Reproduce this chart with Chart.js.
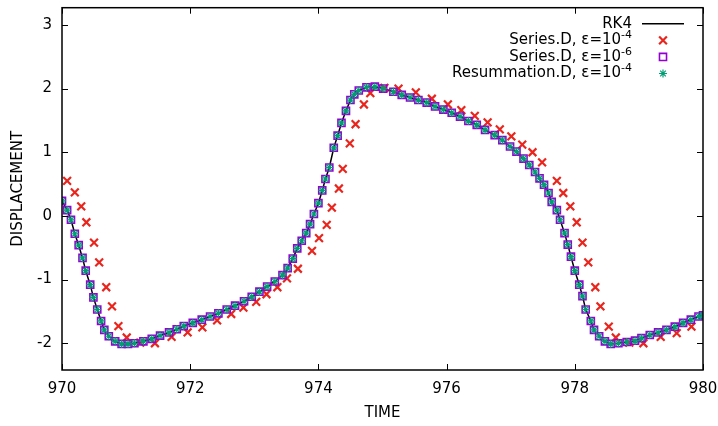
<!DOCTYPE html>
<html>
<head>
<meta charset="UTF-8">
<title>Displacement vs time</title>
<script src="https://cdn.jsdelivr.net/npm/chart.js"></script>
<style>
  body { margin: 0; background: white; }
  canvas { display: block; }
</style>
</head>
<body>
<canvas id="chart" width="718" height="426"></canvas>
<script>
// axis ticks
const xTicks = [970, 972, 974, 976, 978, 980];
const yTicks = [-2, -1, 0, 1, 2, 3];

// RK4 reference solution
const rk4T = [970.0, 970.08, 970.14, 970.2, 970.26, 970.32, 970.37, 970.44, 970.49, 970.55,
  970.61, 970.66, 970.73, 970.83, 970.93, 971.03, 971.13, 971.27, 971.4, 971.53,
  971.67, 971.79, 971.9, 972.04, 972.18, 972.31, 972.44, 972.57, 972.7, 972.84,
  972.96, 973.08, 973.2, 973.32, 973.44, 973.52, 973.6, 973.67, 973.74, 973.81,
  973.87, 973.93, 974.0, 974.06, 974.11, 974.17, 974.24, 974.3, 974.36, 974.43,
  974.5, 974.56, 974.63, 974.75, 974.88, 975.01, 975.17, 975.3, 975.43, 975.56,
  975.69, 975.82, 975.95, 976.08, 976.21, 976.34, 976.47, 976.6, 976.75, 976.87,
  976.99, 977.09, 977.2, 977.29, 977.38, 977.45, 977.52, 977.59, 977.64, 977.72,
  977.77, 977.84, 977.89, 977.94, 978.0, 978.07, 978.12, 978.17, 978.25, 978.3,
  978.38, 978.47, 978.56, 978.68, 978.81, 978.94, 979.04, 979.17, 979.3, 979.43,
  979.56, 979.69, 979.81, 979.93, 980.0];
const rk4Y = [0.235, 0.09, -0.06, -0.28, -0.46, -0.66, -0.86, -1.08, -1.28, -1.47,
  -1.65, -1.79, -1.89, -1.97, -2.01, -2.01, -2.0, -1.97, -1.93, -1.88,
  -1.83, -1.78, -1.73, -1.68, -1.63, -1.58, -1.53, -1.47, -1.41, -1.34,
  -1.27, -1.19, -1.11, -1.03, -0.93, -0.82, -0.67, -0.51, -0.39, -0.27,
  -0.13, 0.03, 0.2, 0.4, 0.58, 0.76, 1.07, 1.26, 1.46, 1.65,
  1.82, 1.91, 1.97, 2.02, 2.03, 2.0, 1.95, 1.9, 1.86, 1.82,
  1.78, 1.72, 1.67, 1.62, 1.56, 1.49, 1.43, 1.35, 1.27, 1.19,
  1.09, 1.01, 0.9, 0.8, 0.69, 0.59, 0.49, 0.36, 0.22, 0.09,
  -0.06, -0.27, -0.45, -0.64, -0.86, -1.08, -1.26, -1.47, -1.65, -1.79,
  -1.89, -1.97, -2.01, -2.0, -1.98, -1.96, -1.92, -1.87, -1.83, -1.79,
  -1.74, -1.68, -1.63, -1.58, -1.56];

// Series.D, eps=1e-4 (lags behind)
const seriesD4T = [970.08, 970.2, 970.3, 970.38, 970.5, 970.58, 970.69, 970.78, 970.88, 971.01,
  971.22, 971.45, 971.71, 971.96, 972.19, 972.42, 972.64, 972.83, 973.03, 973.19,
  973.36, 973.51, 973.68, 973.9, 974.01, 974.13, 974.21, 974.32, 974.38, 974.49,
  974.58, 974.71, 974.81, 975.03, 975.25, 975.52, 975.77, 976.02, 976.23, 976.44,
  976.64, 976.83, 977.01, 977.18, 977.34, 977.49, 977.72, 977.82, 977.93, 978.03,
  978.12, 978.21, 978.32, 978.4, 978.53, 978.64, 978.85, 979.07, 979.34, 979.59,
  979.82];
const seriesD4Y = [0.55, 0.37, 0.15, -0.1, -0.42, -0.73, -1.12, -1.42, -1.73, -1.91,
  -1.99, -2.0, -1.9, -1.83, -1.75, -1.64, -1.54, -1.44, -1.35, -1.23,
  -1.12, -0.98, -0.83, -0.55, -0.35, -0.14, 0.13, 0.43, 0.74, 1.14,
  1.44, 1.75, 1.93, 2.01, 2.0, 1.94, 1.84, 1.75, 1.66, 1.57,
  1.47, 1.36, 1.25, 1.12, 1.0, 0.84, 0.55, 0.36, 0.15, -0.1,
  -0.42, -0.73, -1.12, -1.42, -1.74, -1.91, -1.99, -2.0, -1.9, -1.84,
  -1.74];

// Series.D, eps=1e-6 and Resummation.D, eps=1e-4 sit on the RK4 curve
const seriesD6T = rk4T;
const seriesD6Y = rk4Y;
const resumT = rk4T;
const resumY = rk4Y;

const toPoints = (ts, ys) => ts.map((t, i) => ({ x: t, y: ys[i] }));

const RED = '#e8261e';
const PURPLE = '#9400d3';
const GREEN = '#009e73';
const FONT = '"DejaVu Sans"';

const legendRows = [
  { text: 'RK4', sup: '', kind: 'line', color: '#000' },
  { text: 'Series.D, \u03b5=10', sup: '-4', kind: 'crossRot', color: RED, radius: 5.5, width: 2.2 },
  { text: 'Series.D, \u03b5=10', sup: '-6', kind: 'rect', color: PURPLE, radius: 5, width: 1.6 },
  { text: 'Resummation.D, \u03b5=10', sup: '-4', kind: 'star', color: GREEN, radius: 4, width: 1.2 }
];

// gnuplot-like frame: border plus inward ticks on all four sides, and the key
const framePlugin = {
    id: 'frame',
    afterDraw(chart) {
        const ctx = chart.ctx;
        const a = chart.chartArea;
        const xs = chart.scales.x;
        const ys = chart.scales.y;
        ctx.save();
        ctx.strokeStyle = '#000';
        ctx.lineWidth = 1.5;
        ctx.strokeRect(a.left, a.top, a.right - a.left, a.bottom - a.top);
        ctx.lineWidth = 1;
        ctx.beginPath();
        xTicks.forEach(v => {
            const px = Math.round(xs.getPixelForValue(v)) + 0.5;
            ctx.moveTo(px, a.bottom); ctx.lineTo(px, a.bottom - 6);
            ctx.moveTo(px, a.top); ctx.lineTo(px, a.top + 6);
        });
        yTicks.forEach(v => {
            const py = Math.round(ys.getPixelForValue(v)) + 0.5;
            ctx.moveTo(a.left, py); ctx.lineTo(a.left + 6, py);
            ctx.moveTo(a.right, py); ctx.lineTo(a.right - 6, py);
        });
        ctx.stroke();

        // key
        const textRight = a.right - 71;
        const sampleX = a.right - 40;
        ctx.textBaseline = 'middle';
        legendRows.forEach((row, i) => {
            const y = a.top + 16 + i * 16.6;
            ctx.font = '11px ' + FONT;
            const supW = row.sup ? ctx.measureText(row.sup).width : 0;
            ctx.font = '15px ' + FONT;
            const mainW = ctx.measureText(row.text).width;
            ctx.fillStyle = '#000';
            ctx.textAlign = 'left';
            ctx.fillText(row.text, textRight - supW - mainW, y);
            if (row.sup) {
                ctx.font = '11px ' + FONT;
                ctx.fillText(row.sup, textRight - supW, y - 5);
            }
            if (row.kind === 'line') {
                ctx.strokeStyle = '#000';
                ctx.lineWidth = 1.5;
                ctx.beginPath();
                ctx.moveTo(sampleX - 21, y);
                ctx.lineTo(sampleX + 21, y);
                ctx.stroke();
            } else {
                ctx.strokeStyle = row.color;
                ctx.fillStyle = 'rgba(0,0,0,0)';
                ctx.lineWidth = row.width;
                Chart.helpers.drawPoint(ctx, {
                    pointStyle: row.kind, radius: row.radius, rotation: 0, borderWidth: row.width
                }, sampleX, y);
            }
        });
        ctx.restore();
    }
};

// drop the label-overflow padding so the plot box sits where layout.padding says
const noOverflow = s => {
    s.paddingTop = 0; s.paddingBottom = 0; s.paddingLeft = 0; s.paddingRight = 0;
};

Chart.defaults.font.family = FONT;
Chart.defaults.font.size = 15;
Chart.defaults.color = '#000';

new Chart(document.getElementById('chart'), {
    type: 'scatter',
    data: {
        datasets: [
            {
                label: 'RK4',
                data: toPoints(rk4T, rk4Y),
                showLine: true,
                borderColor: '#000',
                borderWidth: 1.5,
                pointRadius: 0,
                order: 4
            },
            {
                label: 'Series.D, \u03b5=10^-4',
                data: toPoints(seriesD4T, seriesD4Y),
                pointStyle: 'crossRot',
                pointRadius: 5.5,
                borderColor: RED,
                borderWidth: 2.2,
                order: 3
            },
            {
                label: 'Series.D, \u03b5=10^-6',
                data: toPoints(seriesD6T, seriesD6Y),
                pointStyle: 'rect',
                pointRadius: 5,
                borderColor: PURPLE,
                backgroundColor: 'rgba(0,0,0,0)',
                borderWidth: 1.6,
                order: 2
            },
            {
                label: 'Resummation.D, \u03b5=10^-4',
                data: toPoints(resumT, resumY),
                pointStyle: 'star',
                pointRadius: 4,
                borderColor: GREEN,
                borderWidth: 1.2,
                order: 1
            }
        ]
    },
    options: {
        responsive: false,
        animation: false,
        events: [],
        layout: { padding: { top: 7, right: 15, left: 0, bottom: 0 } },
        plugins: {
            legend: { display: false },
            tooltip: { enabled: false }
        },
        scales: {
            x: {
                type: 'linear',
                min: 970,
                max: 980,
                afterBuildTicks: s => { s.ticks = xTicks.map(v => ({ value: v })); },
                afterFit: s => { s.height = 56; noOverflow(s); },
                grid: { display: false, drawTicks: false },
                border: { display: false },
                ticks: { padding: 10 },
                title: { display: true, text: 'TIME', padding: { top: 0, bottom: 4 } }
            },
            y: {
                type: 'linear',
                min: -2.42,
                max: 3.27,
                afterBuildTicks: s => { s.ticks = yTicks.map(v => ({ value: v })); },
                afterFit: s => { s.width = 62; noOverflow(s); },
                grid: { display: false, drawTicks: false },
                border: { display: false },
                ticks: { padding: 10 },
                title: { display: true, text: 'DISPLACEMENT', padding: { top: 9, bottom: 0 } }
            }
        }
    },
    plugins: [framePlugin]
});
</script>
</body>
</html>
